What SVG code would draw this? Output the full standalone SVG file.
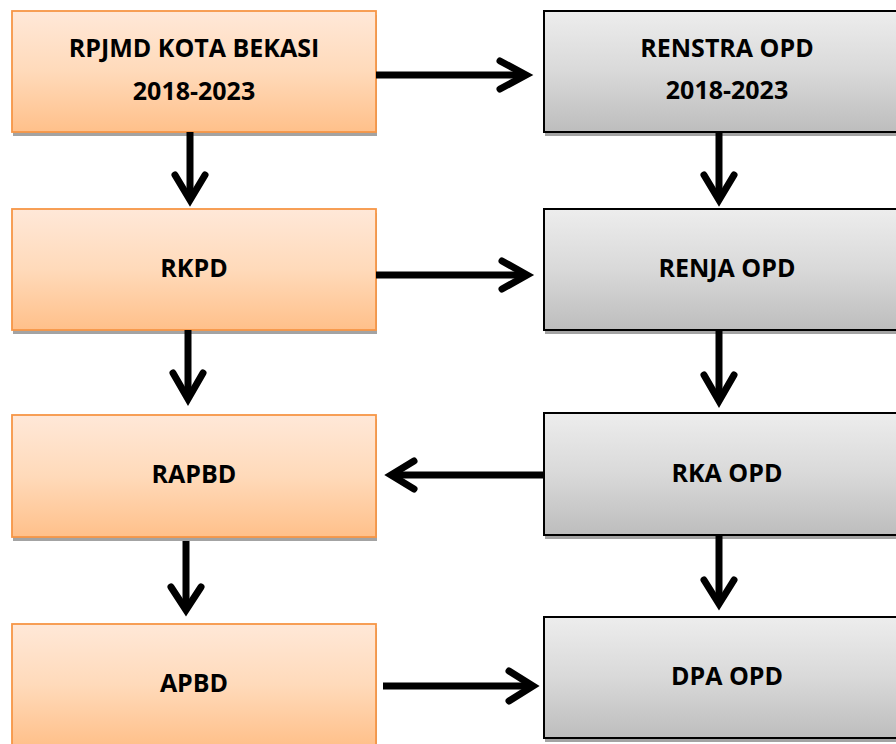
<svg xmlns="http://www.w3.org/2000/svg" width="896" height="744" viewBox="0 0 896 744">
<defs>
<linearGradient id="gO" x1="0" y1="0" x2="0" y2="1">
<stop offset="0" stop-color="#FFE8D8"/>
<stop offset="0.5" stop-color="#FFDABA"/>
<stop offset="1" stop-color="#FFC08A"/>
</linearGradient>
<linearGradient id="gG" x1="0" y1="0" x2="0" y2="1">
<stop offset="0" stop-color="#EDEDED"/>
<stop offset="0.5" stop-color="#D9D9D9"/>
<stop offset="1" stop-color="#BDBDBD"/>
</linearGradient>
</defs>
<style>
.sh{fill:#A3A3A3}
.o{fill:url(#gO);stroke:#F79646;stroke-width:1.8}
.g{fill:url(#gG);stroke:#000;stroke-width:2}
.t{font-family:"Open Sans","Noto Sans",sans-serif;font-weight:700;font-size:25px;fill:#000;text-anchor:middle}
.c{fill:none;stroke:#000;stroke-width:7}
.h{fill:none;stroke:#000;stroke-width:7;stroke-linecap:round;stroke-linejoin:miter;stroke-miterlimit:10}
</style>
<rect width="896" height="744" fill="#fff"/>
<g id="node-rpjmd">
<rect class="sh" x="13" y="15" width="364" height="121"/>
<rect class="o" x="12" y="11" width="364" height="121"/>
<text class="t" x="194" y="57">RPJMD KOTA BEKASI</text>
<text class="t" x="194" y="100">2018-2023</text>
</g>
<g id="node-rkpd">
<rect class="sh" x="13" y="213" width="364" height="121"/>
<rect class="o" x="12" y="209" width="364" height="121"/>
<text class="t" x="194" y="277">RKPD</text>
</g>
<g id="node-rapbd">
<rect class="sh" x="13" y="419" width="364" height="122"/>
<rect class="o" x="12" y="415" width="364" height="122"/>
<text class="t" x="194" y="483">RAPBD</text>
</g>
<g id="node-apbd">
<rect class="sh" x="13" y="628" width="364" height="122"/>
<rect class="o" x="12" y="624" width="364" height="122"/>
<text class="t" x="194" y="692">APBD</text>
</g>
<g id="node-renstra">
<rect class="sh" x="545" y="15" width="364" height="121"/>
<rect class="g" x="544" y="11" width="364" height="121"/>
<text class="t" x="727" y="57">RENSTRA OPD</text>
<text class="t" x="727" y="99">2018-2023</text>
</g>
<g id="node-renja">
<rect class="sh" x="545" y="213" width="364" height="121"/>
<rect class="g" x="544" y="209" width="364" height="121"/>
<text class="t" x="727" y="277">RENJA OPD</text>
</g>
<g id="node-rka">
<rect class="sh" x="545" y="417" width="364" height="122"/>
<rect class="g" x="544" y="413" width="364" height="122"/>
<text class="t" x="727" y="482">RKA OPD</text>
</g>
<g id="node-dpa">
<rect class="sh" x="545" y="621" width="364" height="121"/>
<rect class="g" x="544" y="617" width="364" height="121"/>
<text class="t" x="727" y="685">DPA OPD</text>
</g>
<g id="connectors">
<path class="c" d="M376 75H526"/>
<path class="h" d="M500 61L526 75L500 89"/>
<path class="c" d="M190 132V200"/>
<path class="h" d="M175 175L190 200L205 175"/>
<path class="c" d="M376 275H527"/>
<path class="h" d="M502 261L527 275L502 289"/>
<path class="c" d="M188 330V399"/>
<path class="h" d="M173 373L188 399L203 373"/>
<path class="c" d="M545 475H391"/>
<path class="h" d="M414 461L391 475L414 489"/>
<path class="c" d="M186 541V610"/>
<path class="h" d="M171 587L186 610L201 587"/>
<path class="c" d="M383 686H533"/>
<path class="h" d="M509 671L533 686L509 701"/>
<path class="c" d="M719 132V200"/>
<path class="h" d="M704 175L719 200L734 175"/>
<path class="c" d="M719 330V401"/>
<path class="h" d="M704 375L719 401L734 375"/>
<path class="c" d="M719 535V604"/>
<path class="h" d="M704 580L719 604L734 580"/>
</g>
</svg>
